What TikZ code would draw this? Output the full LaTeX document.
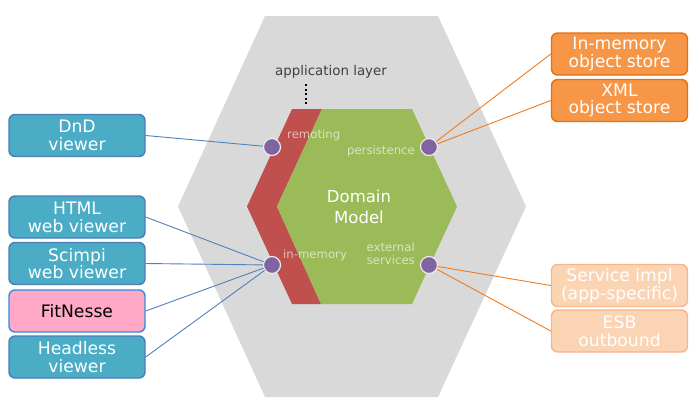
\documentclass[tikz,border=0pt]{standalone}
\usepackage{fontspec}
\setmainfont{DejaVu Sans}
\definecolor{hexgray}{HTML}{D9D9D9}
\definecolor{appred}{HTML}{C0504D}
\definecolor{domgreen}{HTML}{9BBB59}
\definecolor{portpurple}{HTML}{8064A2}
\definecolor{tealfill}{HTML}{4BACC6}
\definecolor{tealdraw}{HTML}{4A7EBB}
\definecolor{bluelink}{HTML}{4F81BD}
\definecolor{pinkfill}{HTML}{FFA9C6}
\definecolor{pinkdraw}{HTML}{2E8BE6}
\definecolor{orangefill}{HTML}{F79646}
\definecolor{orangedraw}{HTML}{E4700F}
\definecolor{orangelink}{HTML}{EE7A22}
\definecolor{lightorfill}{HTML}{FBD4B4}
\definecolor{lightordraw}{HTML}{F6B58A}
\definecolor{labelgray}{HTML}{404040}
\begin{document}
\begin{tikzpicture}[x=1pt,y=-1pt,
  boxbase/.style={rounded corners=6pt, line width=1.4pt, minimum width=136pt, minimum height=42pt,
    align=center, inner sep=0pt, font=\fontsize{17.2}{17.8}\selectfont},
  viewerbox/.style={boxbase, fill=tealfill, draw=tealdraw, text=white},
  testbox/.style={boxbase, fill=pinkfill, draw=pinkdraw, text=black},
  storebox/.style={boxbase, fill=orangefill, draw=orangedraw, text=white},
  svcbox/.style={boxbase, fill=lightorfill, draw=lightordraw, text=white},
  port/.style={circle, minimum size=17pt, inner sep=0pt, fill=portpurple, draw=white!85!gray, line width=1.2pt},
  portlabel/.style={text=white, text opacity=0.62, font=\fontsize{11.7}{13}\selectfont, inner sep=0pt},
  bluelinkline/.style={draw=bluelink, line width=0.9pt},
  orangelinkline/.style={draw=orangelink, line width=0.9pt}
]
\useasboundingbox (0,0) rectangle (700,407);
% outer hexagon
\fill[hexgray] (265,16) -- (438,16) -- (526,206.5) -- (438,397) -- (265,397) -- (178,206.5) -- cycle;
% application layer band
\fill[appred] (292,109) -- (322,109) -- (277,206.5) -- (321,304) -- (292,304) -- (247,206.5) -- cycle;
% domain hexagon
\fill[domgreen] (322,109) -- (412,109) -- (457,206.5) -- (412,304) -- (321,304) -- (277,206.5) -- cycle;

\node[text=labelgray, font=\fontsize{13.4}{15}\selectfont, anchor=base] (applabel) at (331,75) {application layer};
\coordinate (dottop) at (306,84);
\coordinate (dotbot) at (306,105);
\draw[black, line width=1.6pt, dash pattern=on 2pt off 2.5pt] (dottop) -- (dotbot);

\node[text=white, align=center, font=\fontsize{16.5}{20.5}\selectfont] (domain) at (359,207) {Domain\\Model};

\node[portlabel, anchor=base west] (remlabel) at (287,138) {remoting};
\node[portlabel, anchor=base east] (perslabel) at (415,154) {persistence};
\node[portlabel, anchor=base west] (memlabel) at (283,258) {in-memory};
\node[portlabel, anchor=base east, align=right] (extlabel) at (415,264) {external\\services};

% ports
\node[port] (remoting) at (272,147) {};
\node[port] (persistence) at (429,147) {};
\node[port] (inmemory) at (272,265) {};
\node[port] (external) at (429,265) {};

% left boxes
\node[viewerbox] (dnd) at (77,135.5) {DnD\\viewer};
\node[viewerbox] (html) at (77,217) {HTML\\web viewer};
\node[viewerbox] (scimpi) at (77,263.5) {Scimpi\\web viewer};
\node[testbox] (fitnesse) at (77,311) {FitNesse};
\node[viewerbox] (headless) at (77,357) {Headless\\viewer};

% right boxes
\node[storebox] (memstore) at (619.5,54) {In-memory\\object store};
\node[storebox] (xmlstore) at (619.5,100.5) {XML\\object store};
\node[svcbox] (svcimpl) at (619.5,285.5) {Service impl\\(app-specific)};
\node[svcbox] (esb) at (619.5,331) {ESB\\outbound};

% connectors
\draw[bluelinkline] (dnd.east) -- (remoting);
\draw[bluelinkline] (html.east) -- (inmemory);
\draw[bluelinkline] (scimpi.east) -- (inmemory);
\draw[bluelinkline] (fitnesse.east) -- (inmemory);
\draw[bluelinkline] (headless.east) -- (inmemory);
\draw[orangelinkline] (memstore.west) -- (persistence);
\draw[orangelinkline] (xmlstore.west) -- (persistence);
\draw[orangelinkline] (svcimpl.west) -- (external);
\draw[orangelinkline] (esb.west) -- (external);
\end{tikzpicture}
\end{document}
